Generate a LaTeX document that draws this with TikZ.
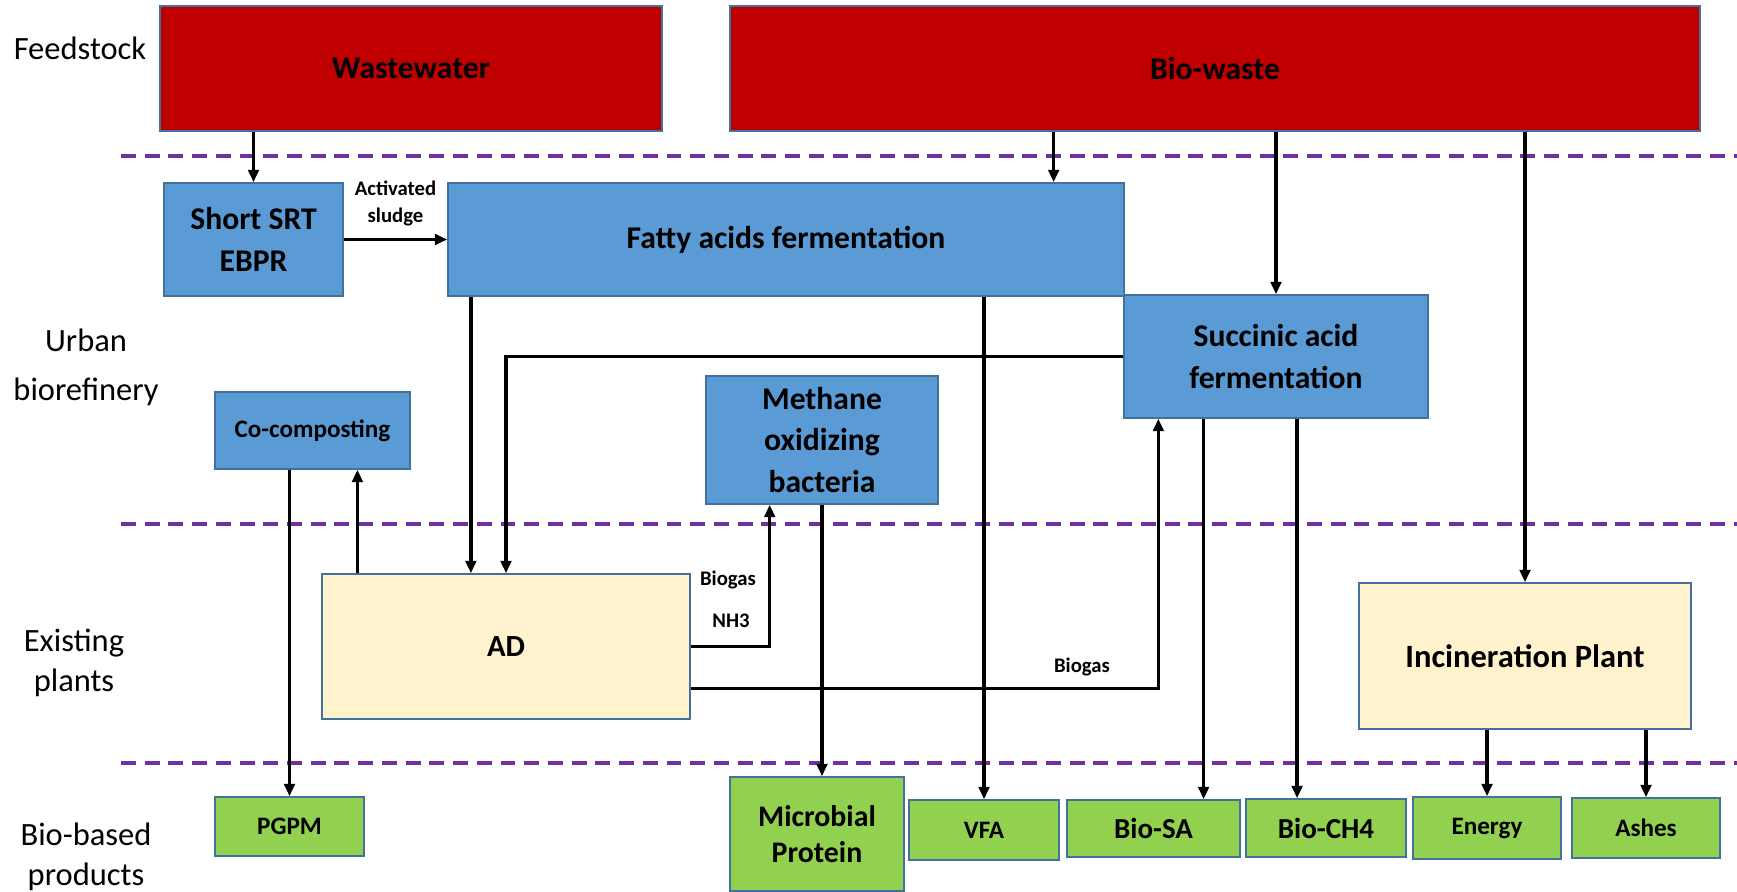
\documentclass[tikz,border=0pt]{standalone}
\usepackage{fontspec}
\setmainfont{Carlito}
\usetikzlibrary{arrows.meta,calc}

\definecolor{feedred}{HTML}{C00000}
\definecolor{procblue}{HTML}{5B9BD5}
\definecolor{plantcream}{HTML}{FFF2CC}
\definecolor{prodgreen}{HTML}{92D050}
\definecolor{edgeblue}{HTML}{41719C}
\definecolor{laneviolet}{HTML}{7030A0}

\begin{document}
\begin{tikzpicture}[x=0.02cm,y=-0.02cm,
  box/.style 2 args={draw=edgeblue,line width=0.9pt,inner sep=0pt,align=center,
    minimum width=#1*0.02cm,minimum height=#2*0.02cm},
  feed/.style={fill=feedred},
  proc/.style={fill=procblue},
  plant/.style={fill=plantcream},
  prod/.style={fill=prodgreen},
  lbig/.style={font=\bfseries\fontsize{18}{23.5}\selectfont},
  lmid/.style={font=\bfseries\fontsize{16.5}{20.5}\selectfont},
  lsmall/.style={font=\bfseries\fontsize{14.3}{18}\selectfont},
  tag/.style={font=\fontsize{18.5}{23}\selectfont,align=center,inner sep=0pt},
  note/.style={font=\bfseries\fontsize{11.8}{15.3}\selectfont,align=center,inner sep=0pt},
  flow/.style={line width=1.9pt,-{Triangle[length=7pt,width=6pt]}},
  lane/.style={laneviolet,line width=2.1pt,dash pattern=on 8.5pt off 5pt}]

\useasboundingbox (0,0) rectangle (1737,892);

% stage names:
\node[tag] (feedstock) at (80,48) {Feedstock};
\node[tag] (urban) at (86,367) {Urban\\[5pt]biorefinery};
\node[tag] (existing) at (74,663) {Existing\\plants};
\node[tag] (biobased) at (86,857) {Bio-based\\products};

% stage borders:
\draw[lane] (121,156) -- (1737,156);
\draw[lane] (121,524) -- (1737,524);
\draw[lane] (121,763) -- (1737,763);

% feedstock:
\node[box={502}{125},feed,lbig] (ww) at (411,68.5) {Wastewater};
\node[box={970}{125},feed,lbig] (bw) at (1215,68.5) {Bio-waste};

% urban biorefinery:
\node[box={179}{113},proc,lbig] (srt) at (253.5,239.5) {Short SRT\\EBPR};
\node[box={676}{113},proc,lbig] (fatty) at (786,239.5) {Fatty acids fermentation};
\node[box={304}{123},proc,lbig] (succ) at (1276,356.5) {Succinic acid\\fermentation};
\node[box={195}{77},proc,lsmall] (coc) at (312.5,430.5) {Co-composting};
\node[box={232}{128},proc,lbig] (meth) at (822,440) {Methane\\oxidizing\\bacteria};

% existing plants:
\node[box={368}{145},plant,font=\bfseries\fontsize{17.5}{21}\selectfont] (ad) at (506,646.5) {AD};
\node[box={332}{146},plant,font=\bfseries\fontsize{18.5}{23}\selectfont] (incin) at (1525,656) {Incineration Plant};

% bio-based products:
\node[box={149}{59},prod,lsmall] (pgpm) at (289.5,826.5) {PGPM};
\node[box={174}{114},prod,font=\bfseries\fontsize{17}{20.5}\selectfont] (micro) at (817,834) {Microbial\\Protein};
\node[box={150}{60},prod,lsmall] (vfa) at (984,830) {VFA};
\node[box={173}{57},prod,lmid] (biosa) at (1153.5,828.5) {Bio-SA};
\node[box={160}{58},prod,lmid] (bioch4) at (1326,828) {Bio-CH4};
\node[box={148}{62},prod,lsmall] (energy) at (1487,828) {Energy};
\node[box={148}{60},prod,lsmall] (ashes) at (1646,828) {Ashes};

% points on box edges:
\coordinate (bw2fa) at ($(fatty.north west)!0.895!(fatty.north east)$);
\coordinate (fa2ad) at ($(ad.north west)!0.405!(ad.north east)$);
\coordinate (ad2co) at ($(ad.north west)!0.098!(ad.north east)$);
\coordinate (ad2mo) at ($(meth.south west)!0.276!(meth.south east)$);
\coordinate (adout) at ($(ad.north east)!0.786!(ad.south east)$);
\coordinate (ad2sa) at ($(succ.south west)!0.115!(succ.south east)$);
\coordinate (sa2bs) at ($(succ.south west)!0.263!(succ.south east)$);
\coordinate (sa2bc) at ($(succ.south west)!0.569!(succ.south east)$);

% flows:
\draw[flow] (srt.north |- ww.south) -- (srt.north);
\draw[flow] (srt.east) -- node[note,above=7pt] {Activated\\sludge} (fatty.west);
\draw[flow] (bw2fa |- bw.south) -- (bw2fa);
\draw[flow] (succ.north |- bw.south) -- (succ.north);
\draw[flow] (incin.north |- bw.south) -- (incin.north);
\draw[flow] (fa2ad |- fatty.south) -- (fa2ad);
\draw[flow] (succ.west) -| (ad.north);
\draw[flow] (vfa.north |- fatty.south) -- (vfa.north);
\draw[flow] (ad2co) -- (ad2co |- coc.south);
\draw[flow] (pgpm.north |- coc.south) -- (pgpm.north);
\draw[flow] (ad.east) -| (ad2mo);
\draw[flow] (adout) -| (ad2sa);
\draw[flow] (meth.south) -- (meth.south |- micro.north);
\draw[flow] (sa2bs) -- (sa2bs |- biosa.north);
\draw[flow] (sa2bc) -- (sa2bc |- bioch4.north);
\draw[flow] (energy.north |- incin.south) -- (energy.north);
\draw[flow] (ashes.north |- incin.south) -- (ashes.north);

% gas labels:
\node[note] (biogasmo) at (728,580) {Biogas};
\node[note] (nh3) at (731,621) {NH3};
\node[note] (biogassa) at (1082,667) {Biogas};

\end{tikzpicture}
\end{document}
